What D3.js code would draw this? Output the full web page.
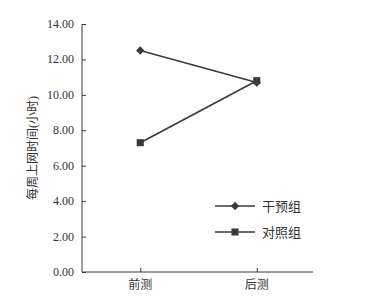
<!DOCTYPE html>
<html>
<head>
<meta charset="utf-8">
<script src="https://cdn.jsdelivr.net/npm/d3@7"></script>
<style>
  body { margin: 0; background: #fff; }
  text { font-family: "Liberation Serif", "Noto Sans CJK SC", serif; fill: #333; }
</style>
</head>
<body>
<svg id="chart" width="383" height="299"></svg>
<script>
// data
var phases = ["前测", "后测"];
var yTicks = [0, 2, 4, 6, 8, 10, 12, 14];
var interventionVals = [12.5, 10.7];   // 干预组
var controlVals = [7.3, 10.8];         // 对照组
var seriesNames = ["干预组", "对照组"];

var svg = d3.select("#chart");
var plotL = 82, plotR = 313, plotT = 24, plotB = 272;
var ink = "#3a3a3a";

var y = d3.scaleLinear().domain([0, 14]).range([plotB, plotT]);
var x = d3.scalePoint().domain(phases).range([plotL, 315]).padding(0.5);

// y axis, ticks pointing inward
var yAxis = svg.append("g").attr("transform", "translate(" + plotL + ",0)")
  .call(d3.axisRight(y).tickValues(yTicks).tickSize(4).tickFormat(""));
yAxis.select(".domain").attr("stroke", ink).attr("d", "M0," + plotT + "V" + plotB);
yAxis.selectAll(".tick line").attr("stroke", ink);

svg.selectAll(".ylab").data(yTicks).enter().append("text")
  .attr("class", "ylab")
  .attr("x", plotL - 8).attr("y", function(d) { return y(d) + 4; })
  .attr("text-anchor", "end").style("font-size", "12px")
  .text(function(d) { return d.toFixed(2); });

// x axis, ticks pointing up
var xAxis = svg.append("g").attr("transform", "translate(0," + plotB + ")")
  .call(d3.axisTop(x).tickSize(4).tickFormat(""));
xAxis.select(".domain").attr("stroke", ink).attr("d", "M" + plotL + ",0H" + plotR);
xAxis.selectAll(".tick line").attr("stroke", ink);

svg.selectAll(".xlab").data(phases).enter().append("text")
  .attr("class", "xlab")
  .attr("x", function(d) { return x(d); }).attr("y", plotB + 17)
  .attr("text-anchor", "middle").style("font-size", "12px")
  .text(function(d) { return d; });

svg.append("text")
  .attr("transform", "translate(37,148) rotate(-90)")
  .attr("text-anchor", "middle").style("font-size", "12px")
  .text("每周上网时间(小时)");

var line = d3.line()
  .x(function(d, i) { return x(phases[i]); })
  .y(function(d) { return y(d); });

var diamond = d3.symbol().type(d3.symbolDiamond2).size(45);
var square = d3.symbol().type(d3.symbolSquare).size(50);

function drawSeries(vals, sym) {
  svg.append("path").datum(vals).attr("d", line)
    .attr("fill", "none").attr("stroke", ink).attr("stroke-width", 1.6);
  svg.selectAll(null).data(vals).enter().append("path")
    .attr("d", sym)
    .attr("transform", function(d, i) { return "translate(" + x(phases[i]) + "," + y(d) + ")"; })
    .attr("fill", ink);
}
drawSeries(interventionVals, diamond);
drawSeries(controlVals, square);

// legend
var legend = svg.selectAll(".leg").data(seriesNames).enter().append("g")
  .attr("class", "leg")
  .attr("transform", function(d, i) { return "translate(215," + (206 + i * 26) + ")"; });
legend.append("line").attr("x1", 0).attr("x2", 40)
  .attr("stroke", ink).attr("stroke-width", 1.6);
legend.append("path")
  .attr("d", function(d, i) { return i === 0 ? diamond() : square(); })
  .attr("transform", "translate(20,0)").attr("fill", ink);
legend.append("text").attr("x", 47).attr("y", 4.5)
  .style("font-size", "13px").text(function(d) { return d; });
</script>
</body>
</html>
